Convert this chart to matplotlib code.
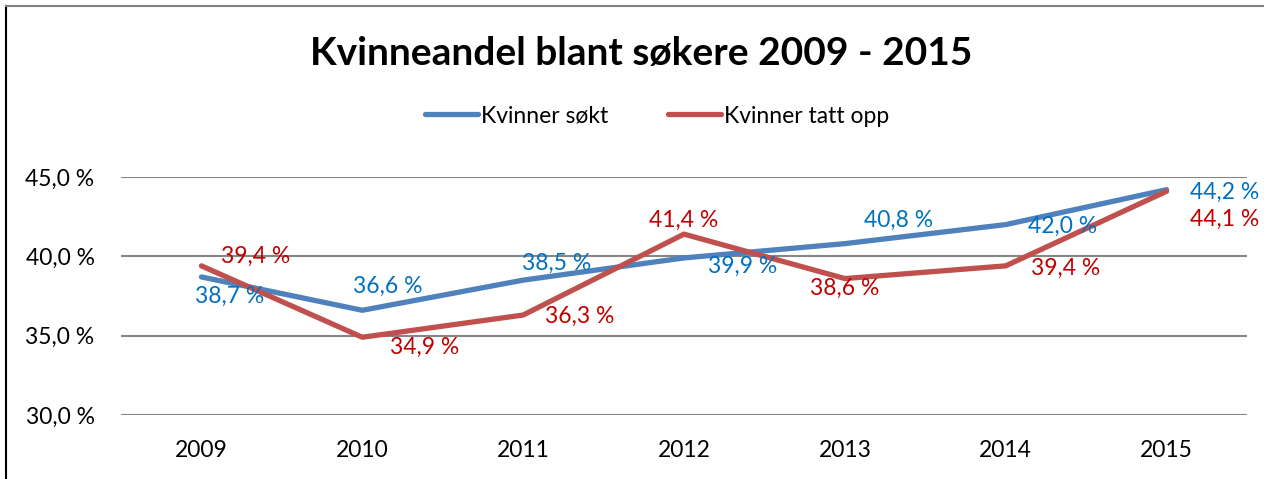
import matplotlib.pyplot as plt
from matplotlib.lines import Line2D

plt.rcParams['font.family'] = ['Lato', 'DejaVu Sans']

years = ["2009", "2010", "2011", "2012", "2013", "2014", "2015"]
sokt = [38.7, 36.6, 38.5, 39.9, 40.8, 42.0, 44.2]
tatt_opp = [39.4, 34.9, 36.3, 41.4, 38.6, 39.4, 44.1]
yticks = [30, 35, 40, 45]

blue = "#4F81BD"
red = "#C0504D"
blue_txt = "#0070C0"
red_txt = "#C00000"

# label offsets (points) roughly like the Excel placement
sokt_off = [(20, -14), (18, 17), (24, 12), (42, -6), (39, 17), (41, -1), (42, -2)]
tatt_off = [(39, 7), (45, -7), (41, -1), (0, 10), (0, -7), (43, -2), (42, -20)]

fig = plt.figure(figsize=(12.64, 4.79), dpi=100)
ax = fig.add_axes([121 / 1264, 1 - 415 / 479, 1126 / 1264, 238 / 479])

x = list(range(len(years)))
ax.plot(x, sokt, color=blue, lw=3.8, solid_capstyle="round", solid_joinstyle="round", zorder=3)
ax.plot(x, tatt_opp, color=red, lw=3.8, solid_capstyle="round", solid_joinstyle="round", zorder=3)

for i, v in enumerate(sokt):
    ax.annotate(f"{v:.1f} %".replace(".", ","), (i, v), xytext=sokt_off[i],
                textcoords="offset points", ha="center", va="center",
                color=blue_txt, fontsize=16.5, zorder=4)
for i, v in enumerate(tatt_opp):
    ax.annotate(f"{v:.1f} %".replace(".", ","), (i, v), xytext=tatt_off[i],
                textcoords="offset points", ha="center", va="center",
                color=red_txt, fontsize=16.5, zorder=4)

ax.set_xlim(-0.5, len(years) - 0.5)
ax.set_ylim(30, 45)
ax.set_yticks(yticks)
ax.set_yticklabels([f"{t:.1f} %".replace(".", ",") for t in yticks], fontsize=16.5)
ax.set_xticks(x)
ax.set_xticklabels(years, fontsize=16.5)
ax.tick_params(length=0)
ax.tick_params(axis="x", pad=18)
ax.tick_params(axis="y", pad=19)
ax.grid(axis="y", color="#868686", lw=1.5)
ax.set_axisbelow(True)
for s in ax.spines.values():
    s.set_visible(False)

fig.text(0.507, 1 - 53 / 479, "Kvinneandel blant søkere 2009 - 2015",
         ha="center", va="center", fontsize=28, fontweight="bold")

handles = [Line2D([], [], color=blue, lw=3.8, solid_capstyle="round"),
           Line2D([], [], color=red, lw=3.8, solid_capstyle="round")]
fig.legend(handles, ["Kvinner søkt", "Kvinner tatt opp"], loc="center",
           bbox_to_anchor=(0.52, 1 - 116 / 479), ncol=2, frameon=False,
           fontsize=16.5, handlelength=2.3, handletextpad=0.15, columnspacing=2.6)

# chart frame
fig.add_artist(Line2D([6 / 1264, 6 / 1264], [0, 1 - 6 / 479], color="black", lw=1.5,
                      transform=fig.transFigure))
fig.add_artist(Line2D([6 / 1264, 1], [1 - 6 / 479, 1 - 6 / 479], color="#808080", lw=1.5,
                      transform=fig.transFigure))

fig.savefig("out.png", dpi=100)
